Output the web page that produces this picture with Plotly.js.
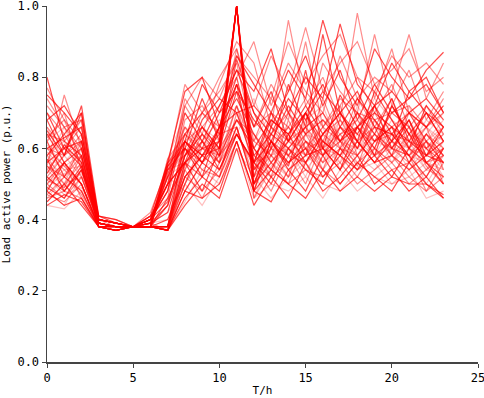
<!DOCTYPE html>
<html>
<head>
<meta charset="utf-8">
<script src="https://cdn.plot.ly/plotly-3.0.1.min.js"></script>
<style>
  html, body { margin: 0; padding: 0; background: #fff; }
  #chart { width: 484px; height: 398px; }
</style>
</head>
<body>
<div id="chart"></div>
<script>
// hours of the day
var hours = [0,1,2,3,4,5,6,7,8,9,10,11,12,13,14,15,16,17,18,19,20,21,22,23];

// daily load curves (p.u.)
var loads = [
  [0.52,0.48,0.55,0.39,0.38,0.38,0.38,0.55,0.62,0.58,0.60,1.00,0.48,0.62,0.55,0.70,0.58,0.66,0.60,0.72,0.64,0.58,0.52,0.60],
  [0.60,0.55,0.50,0.38,0.37,0.38,0.39,0.37,0.55,0.66,0.58,0.72,0.60,0.52,0.68,0.58,0.74,0.62,0.55,0.68,0.60,0.66,0.55,0.50],
  [0.46,0.52,0.47,0.39,0.38,0.38,0.38,0.52,0.48,0.56,0.62,1.00,0.46,0.55,0.60,0.52,0.64,0.56,0.70,0.58,0.62,0.54,0.60,0.52],
  [0.80,0.62,0.58,0.40,0.39,0.38,0.40,0.45,0.60,0.52,0.66,0.78,0.56,0.70,0.62,0.82,0.60,0.75,0.66,0.58,0.72,0.64,0.70,0.62],
  [0.55,0.75,0.60,0.38,0.37,0.38,0.38,0.37,0.50,0.62,0.56,0.68,0.62,0.58,0.52,0.64,0.56,0.60,0.74,0.66,0.58,0.70,0.62,0.56],
  [0.48,0.44,0.52,0.39,0.38,0.38,0.38,0.56,0.64,0.60,0.58,1.00,0.50,0.64,0.58,0.66,0.54,0.62,0.68,0.60,0.56,0.64,0.58,0.62],
  [0.65,0.58,0.72,0.41,0.40,0.38,0.41,0.50,0.56,0.48,0.60,0.85,0.70,0.60,0.78,0.66,0.92,0.70,0.62,0.76,0.68,0.60,0.72,0.66],
  [0.50,0.56,0.46,0.38,0.38,0.38,0.38,0.38,0.58,0.70,0.64,0.66,0.52,0.66,0.60,0.56,0.62,0.72,0.58,0.66,0.74,0.60,0.66,0.54],
  [0.58,0.50,0.62,0.39,0.38,0.38,0.39,0.54,0.66,0.56,0.62,1.00,0.46,0.58,0.66,0.62,0.56,0.68,0.64,0.58,0.66,0.60,0.50,0.58],
  [0.44,0.47,0.45,0.38,0.37,0.38,0.38,0.37,0.46,0.52,0.48,0.62,0.48,0.45,0.54,0.48,0.58,0.50,0.56,0.52,0.48,0.56,0.50,0.47],
  [0.70,0.64,0.56,0.40,0.39,0.38,0.40,0.48,0.72,0.64,0.78,0.90,0.84,0.66,0.96,0.72,0.80,0.68,0.98,0.74,0.88,0.70,0.66,0.74],
  [0.54,0.60,0.68,0.39,0.38,0.38,0.38,0.56,0.60,0.54,0.58,1.00,0.52,0.70,0.62,0.58,0.68,0.64,0.56,0.62,0.70,0.66,0.58,0.64],
  [0.62,0.52,0.48,0.38,0.38,0.38,0.38,0.40,0.52,0.58,0.66,0.74,0.64,0.56,0.62,0.70,0.60,0.54,0.66,0.72,0.60,0.68,0.56,0.52],
  [0.47,0.45,0.50,0.38,0.37,0.38,0.38,0.37,0.54,0.46,0.56,0.64,0.55,0.48,0.58,0.50,0.62,0.58,0.52,0.60,0.56,0.50,0.54,0.58],
  [0.56,0.66,0.54,0.40,0.38,0.38,0.39,0.57,0.70,0.62,0.60,1.00,0.54,0.60,0.52,0.68,0.62,0.58,0.72,0.64,0.60,0.56,0.62,0.68],
  [0.75,0.70,0.64,0.41,0.39,0.38,0.40,0.52,0.62,0.78,0.70,0.82,0.76,0.88,0.70,0.80,0.74,0.95,0.78,0.72,0.84,0.76,0.80,0.70],
  [0.51,0.49,0.58,0.38,0.38,0.38,0.38,0.38,0.60,0.54,0.52,0.70,0.58,0.54,0.50,0.62,0.54,0.66,0.62,0.56,0.64,0.58,0.48,0.56],
  [0.59,0.54,0.50,0.39,0.38,0.38,0.38,0.55,0.58,0.64,0.56,1.00,0.50,0.56,0.64,0.54,0.60,0.56,0.62,0.68,0.58,0.62,0.66,0.60],
  [0.45,0.50,0.44,0.38,0.37,0.38,0.38,0.37,0.44,0.50,0.46,0.60,0.44,0.52,0.46,0.56,0.48,0.52,0.58,0.50,0.54,0.48,0.52,0.46],
  [0.66,0.60,0.66,0.40,0.39,0.38,0.41,0.46,0.68,0.72,0.64,0.88,0.66,0.78,0.70,0.64,0.84,0.76,0.70,0.92,0.72,0.82,0.68,0.76],
  [0.53,0.58,0.52,0.39,0.38,0.38,0.38,0.53,0.62,0.58,0.64,1.00,0.58,0.52,0.60,0.66,0.58,0.70,0.60,0.64,0.58,0.72,0.60,0.54],
  [0.49,0.46,0.54,0.38,0.38,0.38,0.38,0.38,0.56,0.62,0.54,0.66,0.50,0.62,0.56,0.60,0.52,0.58,0.54,0.62,0.66,0.56,0.64,0.58],
  [0.72,0.66,0.60,0.40,0.39,0.38,0.40,0.50,0.74,0.66,0.72,0.80,0.90,0.72,0.84,0.76,0.70,0.86,0.74,0.80,0.76,0.92,0.74,0.84],
  [0.57,0.52,0.62,0.39,0.38,0.38,0.39,0.54,0.56,0.60,0.62,1.00,0.48,0.66,0.58,0.64,0.70,0.60,0.66,0.58,0.62,0.68,0.60,0.56],
  [0.48,0.56,0.50,0.38,0.37,0.38,0.38,0.37,0.48,0.56,0.52,0.64,0.56,0.50,0.60,0.54,0.50,0.60,0.54,0.58,0.52,0.60,0.56,0.50],
  [0.63,0.68,0.57,0.40,0.39,0.38,0.40,0.48,0.64,0.70,0.76,0.84,0.62,0.74,0.68,0.90,0.66,0.72,0.80,0.70,0.78,0.66,0.72,0.64],
  [0.52,0.47,0.49,0.39,0.38,0.38,0.38,0.56,0.60,0.56,0.60,1.00,0.52,0.58,0.54,0.60,0.56,0.64,0.58,0.54,0.60,0.56,0.52,0.60],
  [0.68,0.58,0.70,0.39,0.38,0.38,0.39,0.42,0.58,0.66,0.60,0.76,0.68,0.62,0.72,0.64,0.68,0.62,0.70,0.64,0.74,0.62,0.58,0.66],
  [0.55,0.50,0.56,0.38,0.38,0.38,0.38,0.38,0.50,0.60,0.56,0.72,0.54,0.60,0.66,0.58,0.64,0.68,0.60,0.70,0.62,0.58,0.64,0.60],
  [0.50,0.54,0.48,0.39,0.38,0.38,0.38,0.55,0.66,0.62,0.58,1.00,0.46,0.54,0.62,0.58,0.66,0.54,0.60,0.66,0.56,0.62,0.54,0.62],
  [0.60,0.63,0.66,0.40,0.39,0.38,0.40,0.50,0.56,0.68,0.74,0.70,0.72,0.66,0.76,0.86,0.72,0.82,0.68,0.78,0.70,0.74,0.78,0.70],
  [0.46,0.48,0.46,0.38,0.37,0.38,0.38,0.37,0.52,0.48,0.54,0.66,0.50,0.56,0.50,0.54,0.52,0.56,0.50,0.54,0.58,0.52,0.48,0.52],
  [0.58,0.62,0.52,0.39,0.38,0.38,0.38,0.52,0.60,0.66,0.62,1.00,0.56,0.62,0.56,0.62,0.60,0.66,0.64,0.60,0.68,0.64,0.62,0.66],
  [0.64,0.56,0.60,0.40,0.39,0.38,0.39,0.44,0.62,0.56,0.66,0.80,0.60,0.68,0.64,0.72,0.64,0.70,0.76,0.66,0.64,0.70,0.66,0.72],
  [0.52,0.58,0.64,0.39,0.38,0.38,0.38,0.38,0.54,0.64,0.60,0.68,0.64,0.58,0.70,0.62,0.58,0.64,0.68,0.62,0.70,0.66,0.60,0.56],
  [0.54,0.49,0.53,0.39,0.38,0.38,0.38,0.54,0.58,0.62,0.56,1.00,0.54,0.60,0.58,0.64,0.62,0.58,0.64,0.62,0.60,0.66,0.56,0.58],
  [0.70,0.60,0.62,0.40,0.39,0.38,0.41,0.56,0.76,0.80,0.66,0.86,0.78,0.70,0.82,0.74,0.96,0.80,0.72,0.88,0.80,0.74,0.82,0.87],
  [0.47,0.52,0.58,0.38,0.38,0.38,0.38,0.38,0.56,0.52,0.58,0.64,0.56,0.52,0.56,0.60,0.54,0.50,0.56,0.60,0.54,0.56,0.62,0.50],
  [0.61,0.55,0.58,0.39,0.38,0.38,0.39,0.53,0.62,0.58,0.64,1.00,0.50,0.60,0.66,0.60,0.62,0.66,0.62,0.66,0.64,0.60,0.68,0.64],
  [0.56,0.60,0.55,0.39,0.38,0.38,0.38,0.46,0.56,0.60,0.70,0.76,0.58,0.64,0.60,0.66,0.70,0.62,0.66,0.70,0.66,0.62,0.70,0.62],
  [0.62,0.70,0.54,0.40,0.39,0.38,0.39,0.50,0.66,0.60,0.62,1.00,0.52,0.64,0.70,0.60,0.66,0.62,0.70,0.62,0.66,0.70,0.62,0.58],
  [0.44,0.43,0.48,0.38,0.37,0.38,0.38,0.37,0.50,0.44,0.52,0.62,0.46,0.50,0.48,0.52,0.46,0.54,0.48,0.52,0.50,0.54,0.46,0.48],
  [0.58,0.64,0.70,0.40,0.39,0.38,0.40,0.54,0.60,0.74,0.62,0.78,0.66,0.76,0.62,0.70,0.78,0.66,0.74,0.68,0.62,0.76,0.70,0.66],
  [0.50,0.46,0.52,0.39,0.38,0.38,0.38,0.57,0.64,0.58,0.62,1.00,0.48,0.60,0.56,0.62,0.58,0.62,0.58,0.64,0.60,0.58,0.62,0.56],
  [0.66,0.56,0.62,0.39,0.38,0.38,0.39,0.40,0.54,0.62,0.68,0.64,0.74,0.62,0.58,0.68,0.72,0.60,0.66,0.74,0.68,0.60,0.64,0.70],
  [0.53,0.61,0.56,0.39,0.38,0.38,0.38,0.38,0.62,0.56,0.66,0.70,0.56,0.68,0.64,0.56,0.64,0.70,0.62,0.56,0.62,0.68,0.58,0.62],
  [0.74,0.66,0.68,0.41,0.40,0.38,0.42,0.55,0.78,0.70,0.80,0.88,0.72,0.86,0.76,0.94,0.76,0.84,0.90,0.78,0.82,0.88,0.76,0.80],
  [0.49,0.53,0.47,0.38,0.38,0.38,0.38,0.52,0.56,0.52,0.58,1.00,0.50,0.56,0.52,0.58,0.54,0.60,0.56,0.52,0.56,0.60,0.54,0.52],
  [0.57,0.48,0.54,0.39,0.38,0.38,0.38,0.44,0.58,0.64,0.58,0.68,0.60,0.54,0.64,0.70,0.62,0.58,0.66,0.60,0.72,0.64,0.56,0.60],
  [0.60,0.58,0.62,0.39,0.38,0.38,0.39,0.56,0.62,0.66,0.60,1.00,0.54,0.66,0.62,0.66,0.60,0.64,0.66,0.62,0.64,0.62,0.60,0.64],
  [0.45,0.50,0.52,0.38,0.37,0.38,0.38,0.37,0.45,0.54,0.50,0.60,0.52,0.46,0.52,0.56,0.50,0.48,0.54,0.56,0.50,0.52,0.56,0.54],
  [0.68,0.72,0.64,0.40,0.39,0.38,0.40,0.48,0.70,0.62,0.72,0.82,0.70,0.64,0.74,0.68,0.76,0.70,0.64,0.72,0.76,0.70,0.74,0.68],
  [0.55,0.52,0.60,0.39,0.38,0.38,0.38,0.55,0.60,0.56,0.62,1.00,0.50,0.62,0.58,0.56,0.64,0.60,0.58,0.64,0.58,0.64,0.60,0.66],
  [0.62,0.66,0.58,0.40,0.38,0.38,0.39,0.42,0.50,0.58,0.64,0.72,0.62,0.70,0.58,0.64,0.60,0.68,0.62,0.66,0.62,0.58,0.66,0.62],
  [0.51,0.56,0.50,0.38,0.38,0.38,0.38,0.38,0.52,0.58,0.54,0.64,0.56,0.62,0.54,0.58,0.60,0.54,0.62,0.56,0.58,0.54,0.58,0.56],
  [0.77,0.68,0.62,0.40,0.39,0.38,0.40,0.52,0.72,0.80,0.74,0.86,0.80,0.74,0.90,0.78,0.86,0.92,0.80,0.76,0.86,0.80,0.84,0.78],
  [0.54,0.60,0.57,0.39,0.38,0.38,0.38,0.54,0.64,0.60,0.58,1.00,0.56,0.58,0.62,0.60,0.58,0.62,0.60,0.58,0.62,0.60,0.58,0.60],
  [0.48,0.44,0.46,0.38,0.37,0.38,0.38,0.37,0.48,0.46,0.50,0.62,0.48,0.54,0.50,0.46,0.54,0.48,0.52,0.48,0.52,0.50,0.50,0.46],
  [0.64,0.62,0.68,0.40,0.39,0.38,0.40,0.50,0.64,0.70,0.66,0.78,0.66,0.70,0.66,0.74,0.66,0.74,0.70,0.68,0.70,0.72,0.66,0.70],
  [0.58,0.54,0.55,0.39,0.38,0.38,0.38,0.53,0.58,0.60,0.60,1.00,0.52,0.58,0.60,0.56,0.60,0.58,0.62,0.58,0.60,0.58,0.56,0.58]
];

var xTicks = [0, 5, 10, 15, 20, 25];
var yTicks = [0.0, 0.2, 0.4, 0.6, 0.8, 1.0];

// a few alpha levels so the bundle has light and dark strands
var alphas = [0.7, 0.45, 0.25];

var data = [];
for (var i = 0; i < loads.length; i++) {
  data.push({
    x: hours,
    y: loads[i],
    type: 'scatter',
    mode: 'lines',
    line: { color: 'rgba(255,0,0,' + alphas[i % 3] + ')', width: 1.2 },
    hoverinfo: 'skip',
    showlegend: false
  });
}

var axisFont = { family: 'DejaVu Sans Mono, monospace', size: 12, color: '#000' };
var titleFont = { family: 'DejaVu Sans Mono, monospace', size: 11, color: '#000' };

var layout = {
  width: 484,
  height: 398,
  margin: { l: 47, r: 6, t: 6, b: 36 },
  paper_bgcolor: '#fff',
  plot_bgcolor: '#fff',
  showlegend: false,
  xaxis: {
    range: [0, 25],
    tickvals: xTicks,
    ticktext: xTicks.map(String),
    showgrid: false,
    zeroline: false,
    showline: true,
    linecolor: '#444',
    linewidth: 1.5,
    ticks: 'outside',
    ticklen: 4,
    tickcolor: '#444',
    tickfont: axisFont,
    ticklabeloverflow: 'allow',
    title: { text: 'T/h', font: titleFont, standoff: 2 }
  },
  yaxis: {
    range: [0, 1.0],
    tickvals: yTicks,
    ticktext: yTicks.map(function (v) { return v.toFixed(1); }),
    showgrid: false,
    zeroline: false,
    showline: true,
    linecolor: '#444',
    linewidth: 1.5,
    ticks: 'outside',
    ticklen: 4,
    tickcolor: '#444',
    tickfont: axisFont,
    ticklabeloverflow: 'allow',
    title: { text: 'Load active power (p.u.)', font: titleFont, standoff: 4 }
  }
};

Plotly.newPlot('chart', data, layout, { displayModeBar: false, staticPlot: true });
</script>
</body>
</html>
